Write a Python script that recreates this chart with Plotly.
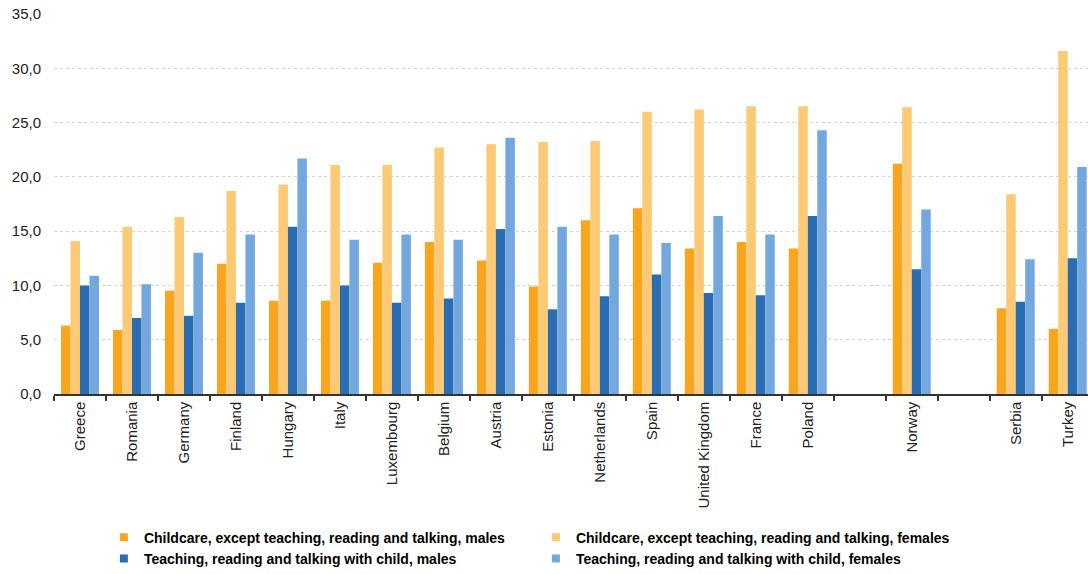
import plotly.graph_objects as go

# Countries (two blank slots separate the groups of countries)
countries = ["Greece", "Romania", "Germany", "Finland", "Hungary", "Italy",
             "Luxembourg", "Belgium", "Austria", "Estonia", "Netherlands",
             "Spain", "United Kingdom", "France", "Poland", " ", "Norway",
             "  ", "Serbia", "Turkey"]

childcare_males = [6.3, 5.9, 9.5, 12.0, 8.6, 8.6, 12.1, 14.0, 12.3, 9.9, 16.0,
                   17.1, 13.4, 14.0, 13.4, None, 21.2, None, 7.9, 6.0]
childcare_females = [14.1, 15.4, 16.3, 18.7, 19.3, 21.1, 21.1, 22.7, 23.0, 23.2,
                     23.3, 26.0, 26.2, 26.5, 26.5, None, 26.4, None, 18.4, 31.6]
teaching_males = [10.0, 7.0, 7.2, 8.4, 15.4, 10.0, 8.4, 8.8, 15.2, 7.8, 9.0,
                  11.0, 9.3, 9.1, 16.4, None, 11.5, None, 8.5, 12.5]
teaching_females = [10.9, 10.1, 13.0, 14.7, 21.7, 14.2, 14.7, 14.2, 23.6, 15.4,
                    14.7, 13.9, 16.4, 14.7, 24.3, None, 17.0, None, 12.4, 20.9]

series_names = [
    "Childcare, except teaching, reading and talking, males",
    "Childcare, except teaching, reading and talking, females",
    "Teaching, reading and talking with child, males",
    "Teaching, reading and talking with child, females",
]
series_values = [childcare_males, childcare_females, teaching_males, teaching_females]
series_colors = ["#F9A51E", "#FCC974", "#2A6DB3", "#73A8DF"]

y_ticks = [0, 5, 10, 15, 20, 25, 30, 35]
y_tick_labels = [f"{v:.1f}".replace(".", ",") for v in y_ticks]

fig = go.Figure()

for name, vals, col in zip(series_names, series_values, series_colors):
    fig.add_trace(go.Bar(
        x=countries, y=vals, name=name,
        marker=dict(color=col, line=dict(width=0)),
        showlegend=False,
    ))

# Small square legend keys
for name, col in zip(series_names, series_colors):
    fig.add_trace(go.Scatter(
        x=[None], y=[None], mode="markers", name=name,
        marker=dict(symbol="square", size=8, color=col),
    ))

fig.update_layout(
    width=1088, height=574,
    margin=dict(l=54, r=0, t=14, b=180),
    paper_bgcolor="white", plot_bgcolor="white",
    barmode="group", bargap=0.27, bargroupgap=0,
    font=dict(family="Liberation Sans, Arial, sans-serif", size=15, color="#222222"),
    legend=dict(
        orientation="h",
        xref="container", yref="container",
        x=0.0955, y=0.091, xanchor="left", yanchor="top",
        entrywidth=387, entrywidthmode="pixels",
        font=dict(size=14, color="#000000",
                  family="Liberation Sans, Arial, sans-serif", weight="bold"),
        itemwidth=30, tracegroupgap=0,
        bgcolor="rgba(0,0,0,0)",
    ),
    xaxis=dict(
        type="category",
        categoryorder="array", categoryarray=countries,
        range=[-0.5, 19.39],
        tickangle=-90,
        ticks="outside", tickson="boundaries", ticklen=5, tickwidth=1.5,
        tickcolor="#333333",
        showline=True, linecolor="#333333", linewidth=1.5,
        showgrid=False,
        tickfont=dict(size=15, color="#222222"),
        fixedrange=True,
    ),
    yaxis=dict(
        range=[0, 35],
        tickvals=y_ticks, ticktext=y_tick_labels,
        showgrid=True, gridcolor="#d4d4d4", griddash="dot", gridwidth=1,
        zeroline=False, showline=False,
        ticks="", ticklabelstandoff=12,
        tickfont=dict(size=15, color="#222222"),
        fixedrange=True,
    ),
)

fig.write_html("out.html")
